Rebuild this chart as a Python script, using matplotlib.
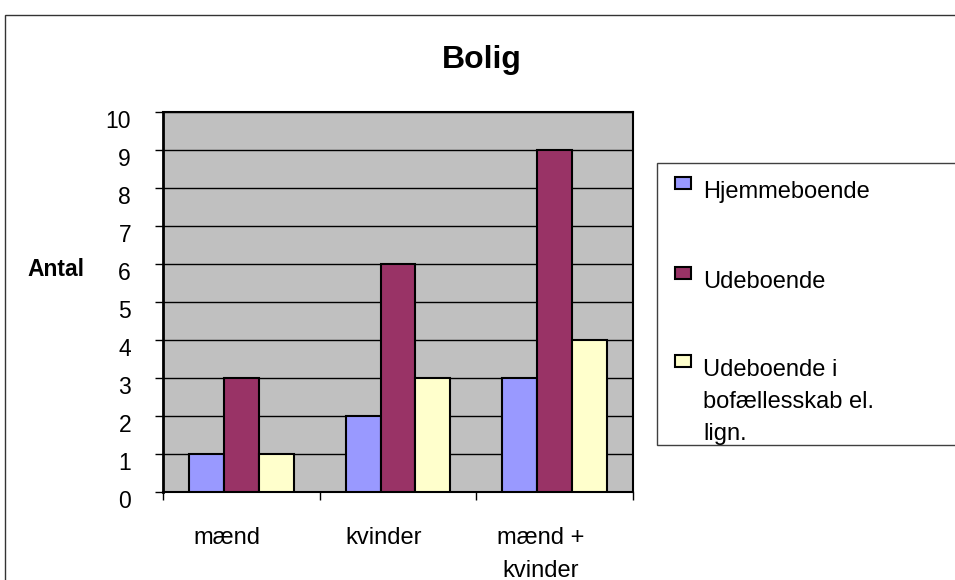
import numpy as np
import matplotlib
matplotlib.use("Agg")
import matplotlib.pyplot as plt
from matplotlib.patches import Rectangle
from matplotlib.transforms import ScaledTranslation

plt.rcParams['font.family'] = ['Liberation Sans', 'DejaVu Sans']

# data
categories = ["mænd", "kvinder", "mænd +\nkvinder"]
series_names = ["Hjemmeboende", "Udeboende", "Udeboende i\nbofællesskab el.\nlign."]
hjemmeboende = [1, 2, 3]
udeboende = [3, 6, 9]
bofaellesskab = [1, 3, 4]
series_values = [hjemmeboende, udeboende, bofaellesskab]
colors = ["#9999FF", "#993366", "#FFFFCC"]
y_ticks = list(range(0, 11))

W, H = 955, 580


def fx(x):
    return x / W


def fy(y):
    return 1 - y / H


fig = plt.figure(figsize=(W / 100, H / 100), dpi=100)

# outer chart border
fig.patches.append(Rectangle((fx(5), fy(700)), fx(1100), 685 / H, fill=False,
                             edgecolor="#333333", linewidth=1,
                             transform=fig.transFigure, clip_on=False))

ax = fig.add_axes([fx(163), fy(492), 470 / W, 380 / H])
ax.set_facecolor("#C0C0C0")

bar_w = 0.223
xc = np.arange(len(categories)) + 0.5
for k, (vals, col) in enumerate(zip(series_values, colors)):
    ax.bar(xc + (k - 1) * bar_w, vals, bar_w, color=col, edgecolor="black",
           linewidth=1.5, zorder=3)

ax.set_xlim(0, len(categories))
ax.set_ylim(0, 10)
ax.set_yticks(y_ticks)
ax.set_yticklabels([str(t) for t in y_ticks], fontsize=16.5)
ax.yaxis.grid(True, color="black", linewidth=1)
ax.set_axisbelow(True)
ax.set_xticks(np.arange(len(categories) + 1))
ax.set_xticklabels([])
ax.tick_params(axis="y", length=6, width=1, pad=17, color="black")
ax.tick_params(axis="x", length=6, width=1, color="black")
for sp in ax.spines.values():
    sp.set_linewidth(1.5)
    sp.set_color("black")
ax.spines["left"].set_linewidth(2)

shift = ScaledTranslation(0, -7 / 100, fig.dpi_scale_trans)
for lab in ax.get_yticklabels():
    lab.set_transform(lab.get_transform() + shift)

# category labels, one text per line
for x, cat in zip(xc, categories):
    for i, line in enumerate(cat.split("\n")):
        off = ScaledTranslation(-14 / 100, -(52 + 33 * i) / 100, fig.dpi_scale_trans)
        ax.text(x, 0, line, transform=ax.get_xaxis_transform() + off,
                ha="center", va="baseline", fontsize=17)

fig.text(fx(482), fy(60), "Bolig", ha="center", va="center",
         fontsize=23, fontweight="bold")
fig.text(fx(56), fy(270), "Antal", ha="center", va="center",
         fontsize=16.5, fontweight="bold")

# legend box
fig.patches.append(Rectangle((fx(657), fy(445)), fx(400), 282 / H,
                             facecolor="white", edgecolor="#404040",
                             linewidth=1, transform=fig.transFigure,
                             clip_on=False))
first_line = [190, 280, 368]
for name, col, yc in zip(series_names, colors, first_line):
    fig.patches.append(Rectangle((fx(675), fy(yc - 1)), 16 / W, 12 / H,
                                 facecolor=col, edgecolor="black",
                                 linewidth=1.5, transform=fig.transFigure))
    for i, line in enumerate(name.split("\n")):
        fig.text(fx(703), fy(yc + 8 + 32 * i), line, ha="left",
                 va="baseline", fontsize=17)

fig.savefig("out.png", dpi=100)
